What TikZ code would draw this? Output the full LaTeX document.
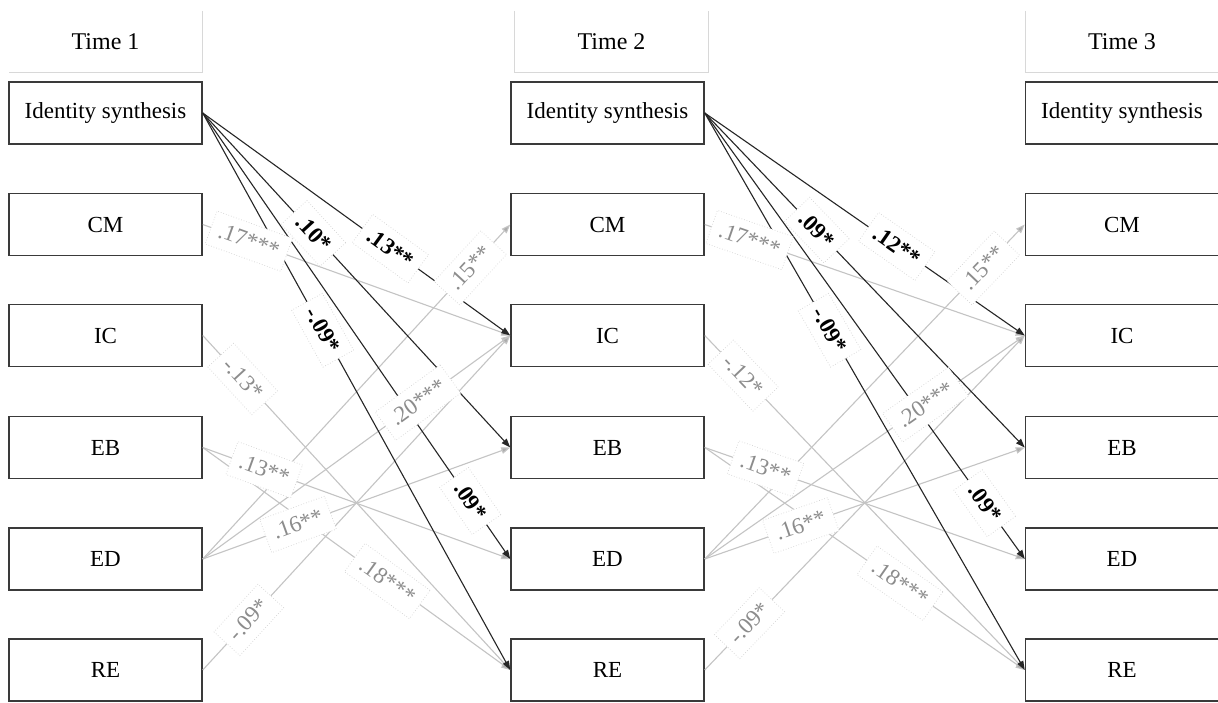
\documentclass[tikz,border=0pt]{standalone}
\usepackage{fontspec}
\setmainfont{Liberation Serif}
\usetikzlibrary{arrows.meta}
\definecolor{boxc}{HTML}{3A3A3A}
\definecolor{blk}{HTML}{262626}
\definecolor{gry}{HTML}{C4C4C4}
\definecolor{gryarrow}{HTML}{ABABAB}
\definecolor{gtxt}{HTML}{8C8C8C}
\definecolor{hdr}{HTML}{D8D8D8}
\definecolor{lblb}{HTML}{D4D4D4}
\tikzset{
  var/.style={draw=boxc, line width=1.5pt, minimum width=193pt, minimum height=62pt,
    inner sep=0pt, font=\fontsize{23}{27}\selectfont, text=black},
  hdrnode/.style={minimum width=193pt, minimum height=61pt, inner sep=0pt,
    font=\fontsize{24}{28}\selectfont, text=black},
  hdrline/.style={draw=hdr, line width=1pt},
  blkedge/.style={draw=blk, line width=1.1pt, -{Triangle[length=9pt,width=6.5pt,fill=blk]}},
  gryedge/.style={draw=gry, line width=1.1pt, -{Triangle[length=9pt,width=6.5pt,fill=gryarrow]}},
  lblbase/.style={sloped, fill=white, draw=lblb, dotted, line width=0.7pt,
    inner xsep=8.5pt, inner ysep=8.5pt, text height=16pt, text depth=2pt},
  blbl/.style={lblbase, text=black, font=\fontsize{23}{27}\bfseries\selectfont},
  glbl/.style={lblbase, text=gtxt, font=\fontsize{23}{27}\selectfont}
}
\begin{document}
\begin{tikzpicture}[x=1pt,y=-1pt]
\useasboundingbox (0,0) rectangle (1218,702);
\fill[white] (0,0) rectangle (1218,702);
% headers
\node[hdrnode] (h1) at (105.5,41.5) {Time 1};
\node[hdrnode] (h2) at (611.5,41.5) {Time 2};
\node[hdrnode] (h3) at (1122,41.5) {Time 3};
\draw[hdrline] (h1.north east) -- (h1.south east) -- (h1.south west);
\draw[hdrline] (h2.north west) -- (h2.south west) -- (h2.south east) -- (h2.north east);
\draw[hdrline] (h3.north west) -- (h3.south west) -- (h3.south east);
% variables
\foreach \c/\x in {a/105.5, b/607.5, c/1122}{
  \node[var] (\c1) at (\x,113) {Identity synthesis};
  \node[var] (\c2) at (\x,224.5) {CM};
  \node[var] (\c3) at (\x,335.5) {IC};
  \node[var] (\c4) at (\x,447.5) {EB};
  \node[var] (\c5) at (\x,559) {ED};
  \node[var] (\c6) at (\x,670) {RE};
}
% gray edges
\foreach \s/\t in {a/b, b/c}{
  \foreach \i/\j in {2/3, 3/6, 4/5, 4/6, 5/2, 5/3, 5/4, 6/3}{
    \draw[gryedge] (\s\i.east) -- (\t\j.west);
  }
}
% black edges
\foreach \s/\t in {a/b, b/c}{
  \foreach \j in {3,4,5,6}{
    \draw[blkedge] (\s1.east) -- (\t\j.west);
  }
}
% labels T1 -> T2
\foreach \i/\j/\p/\l in {2/3/0.15/.17***, 3/6/0.13/-.13*, 4/5/0.20/.13**, 4/6/0.60/.18***,
   5/2/0.87/.15**, 5/3/0.70/.20***, 5/4/0.31/.16**, 6/3/0.15/-.09*}{
  \path (a\i.east) -- node[glbl, pos=\p] {\l} (b\j.west);
}
\foreach \j/\p/\l in {3/0.61/.13**, 4/0.36/.10*, 5/0.87/.09*, 6/0.39/-.09*}{
  \path (a1.east) -- node[blbl, pos=\p] {\l} (b\j.west);
}
% labels T2 -> T3
\foreach \i/\j/\p/\l in {2/3/0.14/.17***, 3/6/0.12/-.12*, 4/5/0.19/.13**, 4/6/0.61/.18***,
   5/2/0.87/.15**, 5/3/0.69/.20***, 5/4/0.30/.16**, 6/3/0.14/-.09*}{
  \path (b\i.east) -- node[glbl, pos=\p] {\l} (c\j.west);
}
\foreach \j/\p/\l in {3/0.60/.12**, 4/0.35/.09*, 5/0.875/.09*, 6/0.39/-.09*}{
  \path (b1.east) -- node[blbl, pos=\p] {\l} (c\j.west);
}
\end{tikzpicture}
\end{document}
